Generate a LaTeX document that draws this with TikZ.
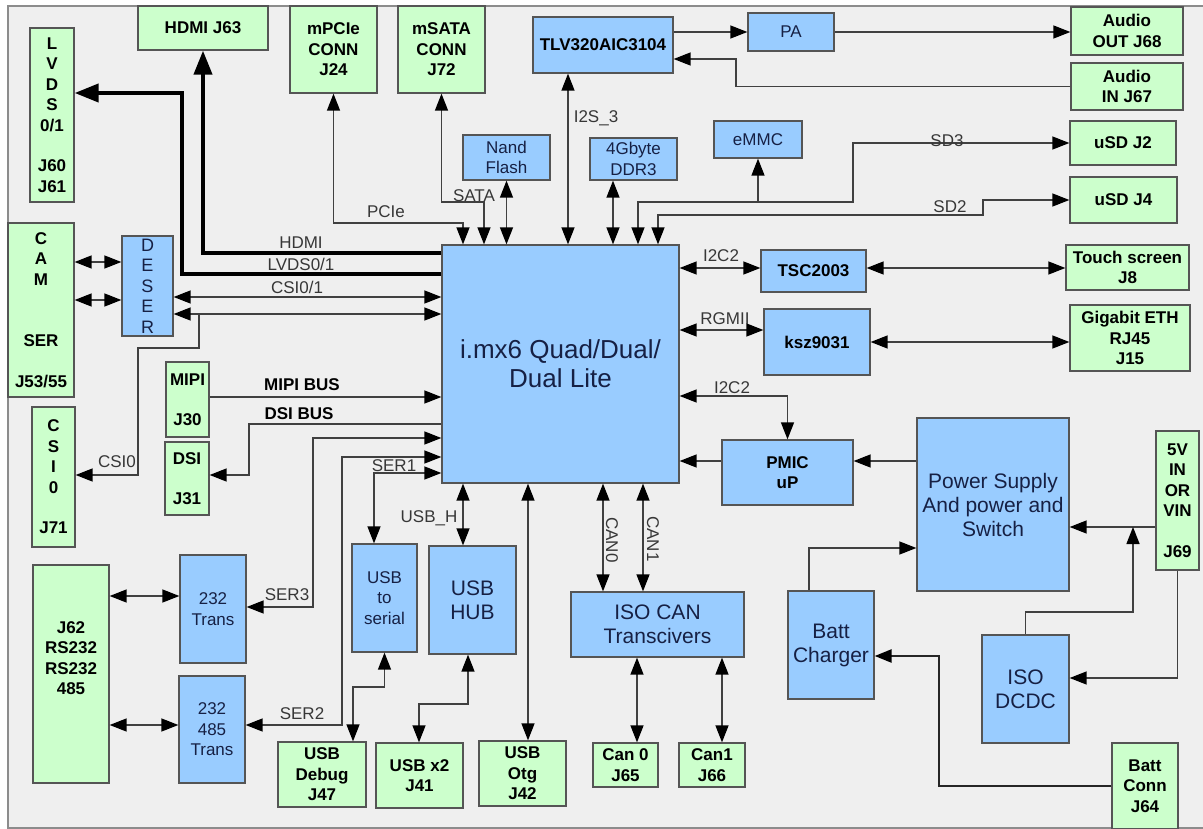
\documentclass[tikz,border=0pt]{standalone}
\usepackage{fontspec}
\setmainfont{Liberation Sans}
\usetikzlibrary{arrows.meta,calc}
\definecolor{conngreen}{RGB}{204,255,204}
\definecolor{chipblue}{RGB}{153,204,255}
\definecolor{boxline}{RGB}{85,85,85}
\definecolor{paper}{RGB}{239,239,239}
\definecolor{navytext}{RGB}{22,32,68}
\definecolor{wiregray}{RGB}{64,64,64}
\definecolor{labelgray}{RGB}{55,55,55}

\begin{document}
\begin{tikzpicture}[x=1pt,y=-1pt,
  >={Triangle[length=17pt,width=13pt,color=black]},
  conn/.style={rectangle,draw=boxline,line width=1.3pt,fill=conngreen,align=center,inner sep=0pt,
    font=\bfseries\fontsize{17}{20.5}\selectfont},
  chip/.style={rectangle,draw=boxline,line width=1.3pt,fill=chipblue,align=center,inner sep=0pt,
    text=navytext,font=\fontsize{17}{20.5}\selectfont},
  chipbig/.style={chip,font=\fontsize{21}{24}\selectfont},
  chipbold/.style={chip,text=black,font=\bfseries\fontsize{17}{20.5}\selectfont},
  arr/.style={->,line width=1.4pt,draw=wiregray},
  dbl/.style={<->,line width=1.4pt,draw=wiregray},
  thk/.style={-{Triangle[length=24pt,width=18pt]},line width=4pt,draw=black},
  batt/.style={->,line width=2.4pt,draw=black!85},
  sig/.style={font=\fontsize{17}{20}\selectfont,text=labelgray,inner sep=0pt},
  bus/.style={font=\bfseries\fontsize{17}{20}\selectfont,inner sep=0pt}
]
\useasboundingbox (0,0) rectangle (1203,829);
\fill[white] (0,0) rectangle (1203,829);
\filldraw[fill=paper,draw=black!45,line width=1.2pt] (8,6) rectangle (1210,828);

% Connectors on the left
\node[conn,minimum width=44,minimum height=174] (lvds) at (52,115) {L\\V\\D\\S\\0/1\\[20pt]J60\\J61};
\node[conn,minimum width=66,minimum height=174] (cam) at (41,310) {C\\A\\M\\[41pt]SER\\[20pt]J53/55};
\node[conn,minimum width=43,minimum height=140] (csi) at (53.5,477) {C\\S\\I\\0\\[20pt]J71};
\node[conn,minimum width=43,minimum height=75] (mipi) at (187.5,399.5) {MIPI\\[20pt]J30};
\node[conn,minimum width=44,minimum height=73] (dsi) at (187,478.5) {DSI\\[20pt]J31};
\node[conn,minimum width=76,minimum height=218] (rs) at (71,674) {};
\node[font=\bfseries\fontsize{17}{20.5}\selectfont,align=center,inner sep=0pt] (rstext) at (71,658) {J62\\RS232\\RS232\\485};
\node[chip,minimum width=51,minimum height=100,font=\fontsize{18}{20.5}\selectfont] (deser) at (147.5,286) {D\\E\\S\\E\\R};
\node[chip,minimum width=66,minimum height=108] (transa) at (213,609) {232\\Trans};
\node[chip,minimum width=66,minimum height=107] (transb) at (212,729.5) {232\\485\\Trans};

% Connectors on the top
\node[conn,minimum width=130,minimum height=44] (hdmi) at (203,28) {HDMI J63};
\node[conn,minimum width=87,minimum height=87] (mpcie) at (333.5,49.5) {mPCIe\\CONN\\J24};
\node[conn,minimum width=87,minimum height=87] (msata) at (441.5,49.5) {mSATA\\CONN\\J72};
\node[chipbold,minimum width=140,minimum height=56] (tlv) at (603,45) {TLV320AIC3104};
\node[chip,minimum width=86,minimum height=38] (pa) at (791,32) {PA};
\node[conn,minimum width=112,minimum height=48] (audout) at (1127,31) {Audio\\OUT J68};
\node[conn,minimum width=112,minimum height=47] (audin) at (1127,86.5) {Audio\\IN J67};
\node[conn,minimum width=106,minimum height=44] (usdtwo) at (1123,143) {uSD J2};
\node[conn,minimum width=107,minimum height=46] (usdfour) at (1123.5,200) {uSD J4};
\node[chip,minimum width=87,minimum height=45] (nand) at (506.5,157.5) {Nand\\Flash};
\node[chip,minimum width=87,minimum height=42] (ddr) at (633.5,159) {4Gbyte\\DDR3};
\node[chip,minimum width=88,minimum height=37] (emmc) at (758,139.5) {eMMC};

% Processor
\node[chip,minimum width=237,minimum height=238,font=\fontsize{26}{29}\selectfont] (imx) at (560.5,364) {i.mx6 Quad/Dual/\\Dual Lite};

% Right side
\node[chipbold,minimum width=105,minimum height=42] (tsc) at (813.5,271) {TSC2003};
\node[chipbold,minimum width=106,minimum height=66] (ksz) at (817,342) {ksz9031};
\node[conn,minimum width=123,minimum height=45] (touch) at (1127.5,267.5) {Touch screen\\J8};
\node[conn,minimum width=120,minimum height=66] (eth) at (1130,338) {Gigabit ETH\\RJ45\\J15};
\node[chipbold,minimum width=131,minimum height=65] (pmic) at (787.5,472.5) {PMIC\\uP};
\node[chipbig,minimum width=152,minimum height=173] (psu) at (993,504.5) {Power Supply\\And power and\\Switch};
\node[conn,minimum width=43,minimum height=139] (fivev) at (1177.5,500.5) {5V\\IN\\OR\\VIN\\[20pt]J69};
\node[chipbig,minimum width=86,minimum height=108] (charger) at (831,645) {Batt\\Charger};
\node[chipbig,minimum width=87,minimum height=108] (dcdc) at (1025.5,689) {ISO\\DCDC};
\node[conn,minimum width=66,minimum height=86] (battconn) at (1145,786) {Batt\\Conn\\J64};

% Bottom
\node[chip,minimum width=65,minimum height=108] (usbser) at (384.5,598) {USB\\to\\serial};
\node[chipbig,minimum width=87,minimum height=108] (usbhub) at (472.5,600) {USB\\HUB};
\node[chipbig,minimum width=173,minimum height=65] (isocan) at (657.5,624.5) {ISO CAN\\Transcivers};
\node[conn,minimum width=88,minimum height=65] (usbdbg) at (322,774.5) {USB\\Debug\\J47};
\node[conn,minimum width=87,minimum height=65] (usbxtwo) at (419.5,775.5) {USB x2\\J41};
\node[conn,minimum width=87,minimum height=65] (usbotg) at (522.5,773.5) {USB\\Otg\\J42};
\node[conn,minimum width=65,minimum height=44] (canzero) at (625.5,765) {Can 0\\J65};
\node[conn,minimum width=66,minimum height=44] (canone) at (712,765) {Can1\\J66};

% Top wiring
\draw[dbl] (mpcie.south) |- (463,223) -- (imx.north -| 463,0);
\draw[dbl] (msata.south) |- (484,202) -- (imx.north -| 484,0);
\draw[dbl] (nand.south) -- (nand.south |- imx.north);
\draw[dbl] (tlv.south -| 568,0) -- (imx.north -| 568,0);
\draw[dbl] (ddr.south -| 613,0) -- (imx.north -| 613,0);
\draw[dbl] (imx.north -| 638,0) |- (853,202) |- (usdtwo.west);
\draw[arr] (emmc.south |- 0,202) -- (emmc.south);
\draw[dbl] (imx.north -| 658,0) |- (983,215) |- (usdfour.west);
\draw[arr] (tlv.east |- pa.west) -- (pa.west);
\draw[arr] (pa.east) -- (audout.west |- pa.east);
\draw[arr] (audin.west) -| (736,59) -- (tlv.east |- 0,59);

% Left wiring
\draw[thk] (imx.west |- 0,253) -| (hdmi.south);
\draw[thk] (imx.west |- 0,274) -| (182,93) -- (lvds.east |- 0,93);
\draw[dbl] (deser.east |- 0,297) -- (imx.west |- 0,297);
\draw[dbl] (deser.east |- 0,314) -- (imx.west |- 0,314);
\coordinate (csitap) at (199,314);
\draw[arr] (csitap) |- (138,348) |- (csi.east |- 0,475);
\draw[dbl] (cam.east |- 0,262) -- (deser.west |- 0,262);
\draw[dbl] (cam.east |- 0,300) -- (deser.west |- 0,300);
\draw[arr] (mipi.east |- 0,397) -- (imx.west |- 0,397);
\draw[arr] (imx.west |- 0,424) -| (249,475) -- (dsi.east |- 0,475);
\draw[dbl] (imx.west |- 0,438) -| (313,607) -- (transa.east |- 0,607);
\draw[dbl] (imx.west |- 0,457) -| (342,725) -- (transb.east |- 0,725);
\draw[dbl] (imx.west |- 0,473) -| (usbser.north -| 374,0);
\draw[dbl] (rs.east |- 0,596) -- (transa.west |- 0,596);
\draw[dbl] (rs.east |- 0,725) -- (transb.west |- 0,725);

% Bottom wiring
\draw[dbl] (imx.south -| 463,0) -- (usbhub.north -| 463,0);
\draw[dbl] (imx.south -| 528,0) -- (usbotg.north -| 528,0);
\draw[dbl] (usbser.south) |- (353,687) -- (usbdbg.north -| 353,0);
\draw[dbl] (usbhub.south -| 468,0) |- (419,704) -- (usbxtwo.north -| 419,0);
\draw[dbl] (imx.south -| 603,0) -- (isocan.north -| 603,0);
\draw[dbl] (imx.south -| 643,0) -- (isocan.north -| 643,0);
\draw[dbl] (isocan.south -| 637,0) -- (canzero.north -| 637,0);
\draw[dbl] (isocan.south -| 722,0) -- (canone.north -| 722,0);

% Right wiring
\draw[dbl] (imx.east |- 0,268) -- (tsc.west |- 0,268);
\draw[dbl] (tsc.east |- 0,268) -- (touch.west |- 0,268);
\draw[dbl] (imx.east |- 0,330) -- (ksz.west |- 0,330);
\draw[dbl] (ksz.east |- 0,342) -- (eth.west |- 0,342);
\draw[dbl] (imx.east |- 0,396) -| (pmic.north);
\draw[arr] (pmic.west |- 0,461) -- (imx.east |- 0,461);
\draw[arr] (psu.west |- 0,461) -- (pmic.east |- 0,461);
\draw[arr] (fivev.west |- 0,527) -- (psu.east |- 0,527);
\coordinate (vinjoin) at (1133,527);
\draw[arr] (dcdc.north) |- (1133,612) -- (vinjoin);
\draw[arr] (fivev.south) |- (dcdc.east |- 0,678);
\draw[arr] (charger.north -| 809,0) |- (psu.west |- 0,548);
\draw[batt] (battconn.west |- 0,786) -| (939,656) -- (charger.east |- 0,656);

% Signal names
\node[sig] (lpcie) at (386,212) {PCIe};
\node[sig] (lsata) at (474,196) {SATA};
\node[sig] (lhdmi) at (301,243) {HDMI};
\node[sig] (llvds) at (301,264) {LVDS0/1};
\node[sig] (lcsi) at (297,287) {CSI0/1};
\node[bus] (lmipi) at (302,385) {MIPI BUS};
\node[bus] (ldsi) at (299,414) {DSI BUS};
\node[sig] (lserone) at (394,466) {SER1};
\node[sig] (lserthree) at (287,595) {SER3};
\node[sig] (lsertwo) at (302,714) {SER2};
\node[sig] (lusbh) at (429,518) {USB\_H};
\node[sig] (lcsizero) at (117,462) {CSI0};
\node[sig] (lis) at (596,118) {I2S\_3};
\node[sig] (lsdthree) at (947,141) {SD3};
\node[sig] (lsdtwo) at (950,207) {SD2};
\node[sig] (litsc) at (721,256) {I2C2};
\node[sig] (lrgmii) at (725,319) {RGMII};
\node[sig] (lipmic) at (732,388) {I2C2};
\node[sig,rotate=-90] (lcanzero) at (612,540) {CAN0};
\node[sig,rotate=-90] (lcanone) at (653,539) {CAN1};
\end{tikzpicture}
\end{document}
